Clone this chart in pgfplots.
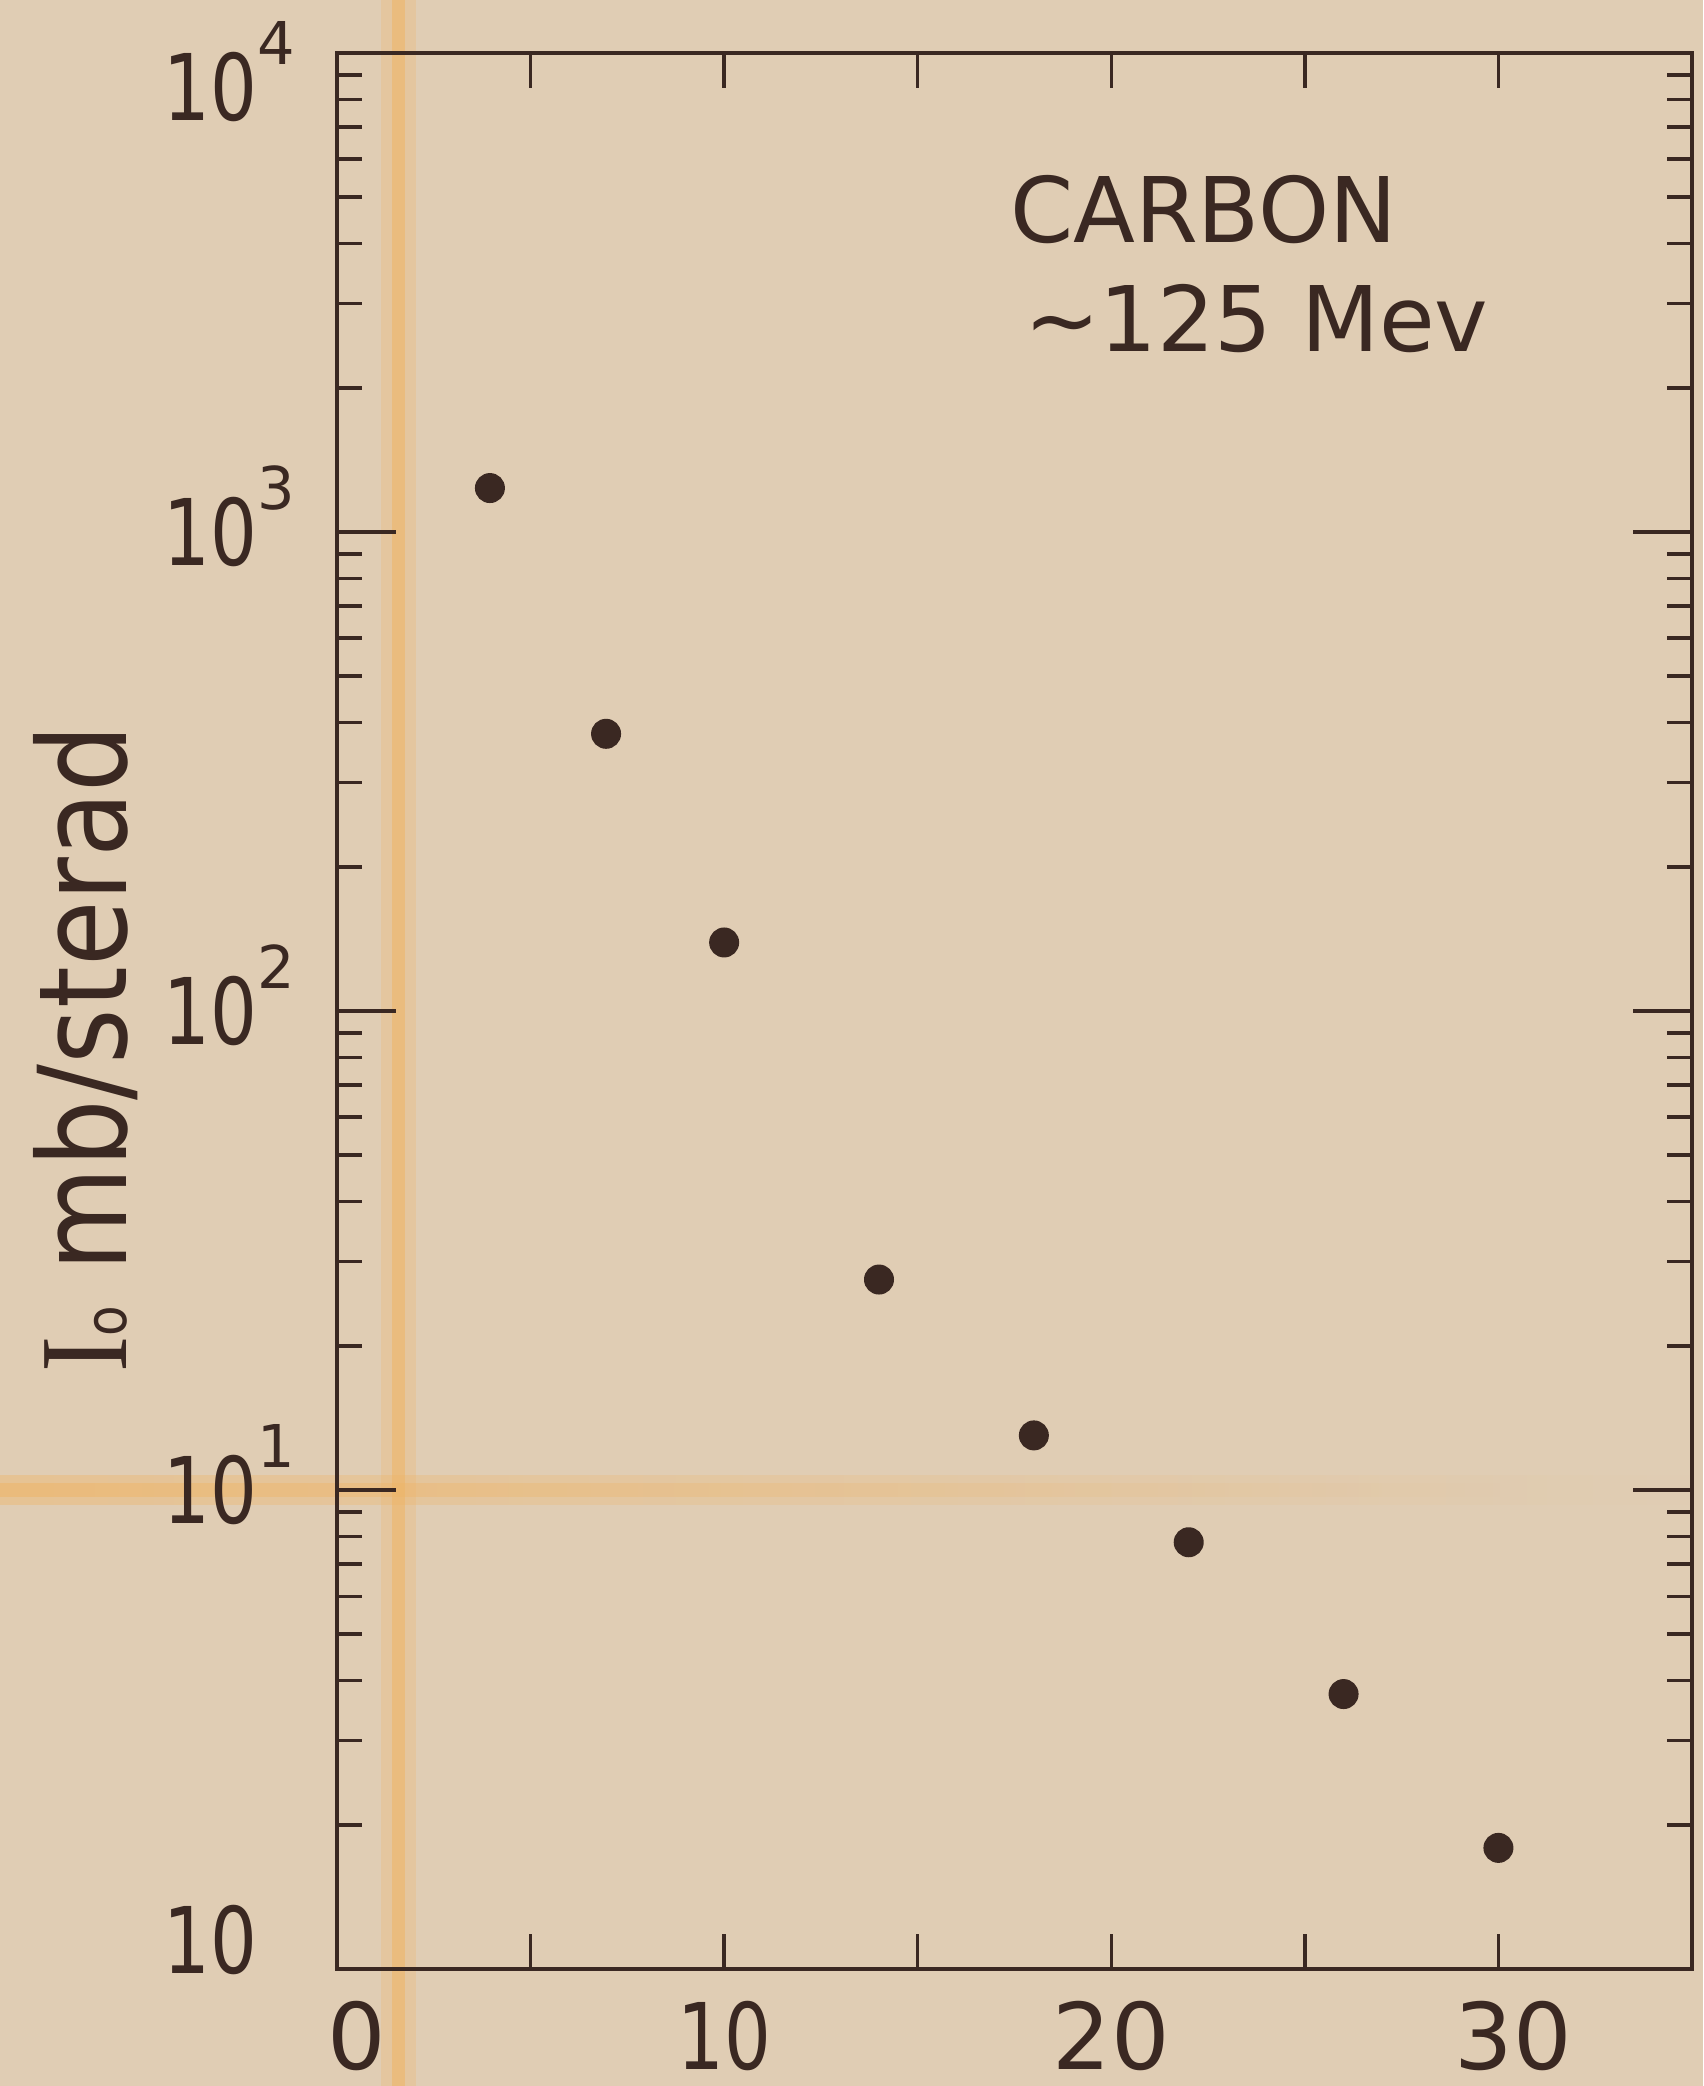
\documentclass[border=0pt]{standalone}
\usepackage{pgfplots}
\pgfplotsset{compat=1.18}
\usepackage{fontspec}
\setmainfont{DejaVu Sans}
\newfontfamily\serifI{Liberation Serif}
\usetikzlibrary{fadings}
\definecolor{paper}{RGB}{224,205,180}
\definecolor{ink}{RGB}{58,40,34}
\definecolor{fold}{RGB}{240,180,100}
\newcommand{\tl}{\fontsize{18.4}{20}\selectfont}
\newcommand{\ten}{\scalebox{0.8}[1]{10}}
\newcommand{\pw}[1]{\ten\rlap{\raisebox{11.2pt}{\fontsize{11.8}{12}\selectfont #1}}}

\begin{document}
\begin{tikzpicture}[x=1pt,y=1pt]
\useasboundingbox (0,0) rectangle (340.6,417.2);
\fill[paper] (0,0) rectangle (340.6,417.2);
% paper fold marks
\draw[fold, opacity=0.25, line width=7pt] (79.6,0) -- (79.6,417.2);
\draw[fold, opacity=0.55, line width=2.6pt] (79.6,0) -- (79.6,417.2);
\fill[fold, opacity=0.4, path fading=east] (0,116.2) rectangle (340,122.2);
\fill[fold, opacity=0.5, path fading=east] (0,117.8) rectangle (300,120.6);

\begin{axis}[
  at={(67.4pt,23.4pt)}, anchor=south west,
  scale only axis, width=271pt, height=383.2pt,
  xmin=0, xmax=35, ymode=log, ymin=1, ymax=10000,
  axis line style={ink, line width=0.9pt},
  xtick={0,5,...,35},
  xticklabels={\hspace{8pt}0,,\ten,,20,,\hspace{6pt}30,},
  ytick={1,10,100,1000,10000},
  yticklabels={\raisebox{5.8pt}{\ten},\pw{1},\pw{2},\pw{3},\raisebox{-6.8pt}{\pw{4}}},
  tick align=inside,
  tick pos=both,
  major tick length=11.8pt, minor tick length=5pt,
  xtick style={/pgfplots/major tick length=7pt},
  every tick/.style={ink, line width=0.7pt},
  tick label style={font=\tl, text=ink, inner sep=0pt},
  xticklabel style={anchor=north, yshift=-6.2pt},
  yticklabel style={anchor=base east, xshift=-15.8pt, yshift=-6.7pt},
  clip=false,
]
\addplot[only marks, mark=*, mark size=2.8pt, draw=ink, fill=ink, mark options={fill=ink, draw=ink}] coordinates {
 (3.95,1235) (6.95,379) (10,139) (14,27.5) (18,13.0) (22,7.78) (26,3.75) (30,1.79)
};
\end{axis}

\node[anchor=base west, inner sep=0pt, text=ink, font=\fontsize{18.1}{20}\selectfont] at (201.8,368.6) {CARBON};
\node[anchor=base west, inner sep=0pt, text=ink, font=\fontsize{18.1}{20}\selectfont] at (204.6,346.8) {∼125 Mev};
\node[rotate=90, anchor=base, inner sep=0pt, text=ink, font=\fontsize{24.5}{26}\selectfont] at (25.2,207.5) {\scalebox{0.87}[1]{{\serifI\fontsize{25}{26}\selectfont I}{\fontsize{11.5}{12}\selectfont o} mb/sterad}};
\end{tikzpicture}
\end{document}
